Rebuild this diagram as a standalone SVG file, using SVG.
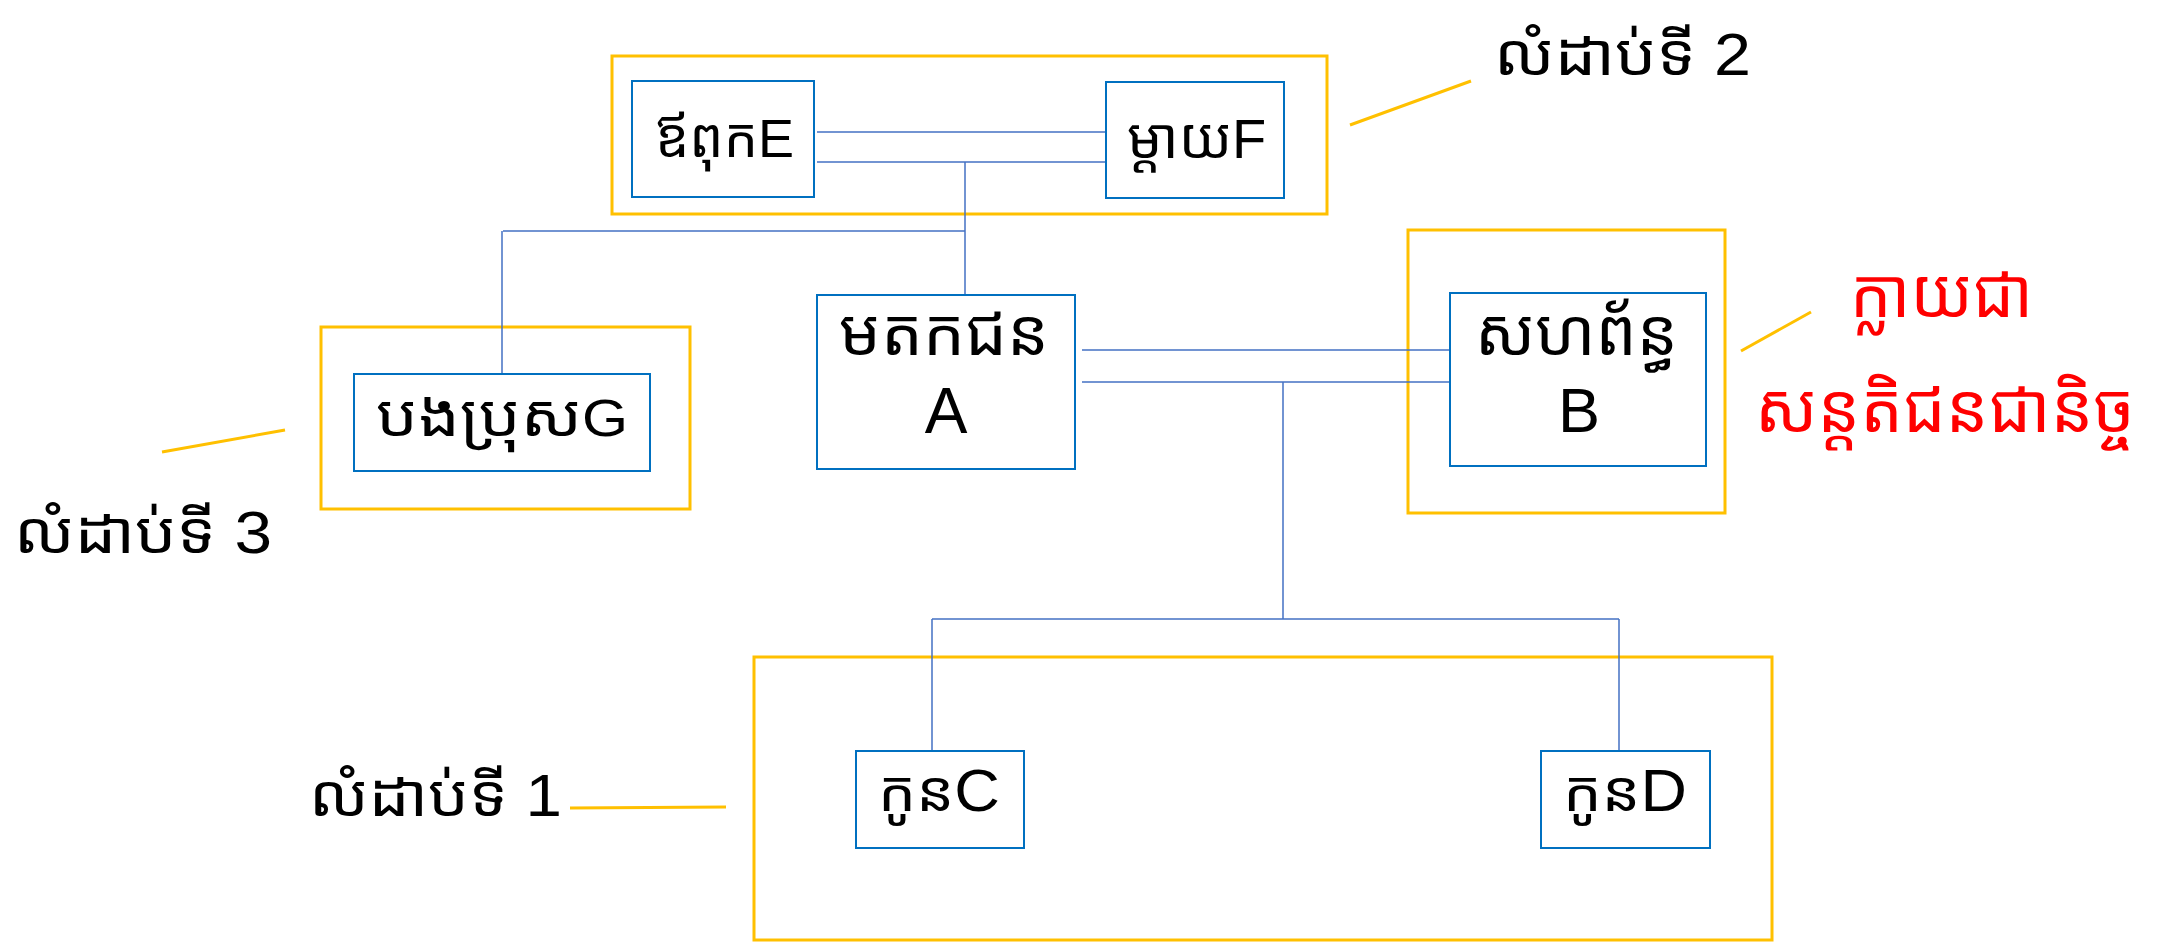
<svg xmlns="http://www.w3.org/2000/svg" width="2161" height="942" viewBox="0 0 2161 942">
<style>
.gold{fill:none;stroke:#FFC000;stroke-width:3}
.node{fill:#fff;stroke:#0070C0;stroke-width:2}
.con{fill:none;stroke:#4472C4;stroke-width:1.5}
.lead{fill:none;stroke:#FFC000;stroke-width:3}
text{font-family:"Liberation Sans","Noto Sans Khmer","Khmer OS","Khmer Sangam MN","Noto Sans",sans-serif;fill:#000}
.red{fill:#FF0000}
</style>
<rect width="2161" height="942" fill="#fff"/>
<g id="groups">
<rect id="gen2" class="gold" x="612" y="56" width="715" height="158"/>
<rect id="gen3" class="gold" x="321" y="327" width="369" height="182"/>
<rect id="heir" class="gold" x="1408" y="230" width="317" height="283"/>
<rect id="gen1" class="gold" x="754" y="657" width="1018" height="283"/>
</g>
<g id="connectors">
<path class="con" d="M817,132H1106M817,162H1106M965,162V295M503,231H965M502,231V374"/>
<path class="con" d="M1082,350H1450M1082,382H1450M1283,382V619M932,619H1619M932,619V751M1619,619V751"/>
</g>
<g id="leaders">
<line class="lead" x1="1350" y1="125" x2="1471" y2="81"/>
<line class="lead" x1="162" y1="452" x2="285" y2="430"/>
<line class="lead" x1="570" y1="808" x2="726" y2="807"/>
<line class="lead" x1="1741" y1="351" x2="1811" y2="312"/>
</g>
<g id="nodeE"><rect class="node" x="632" y="81" width="182" height="116"/><text x="655" y="157" font-size="54">ឪពុកE</text></g>
<g id="nodeF"><rect class="node" x="1106" y="82" width="178" height="116"/><text x="1127" y="158" font-size="56">ម្ដាយF</text></g>
<g id="nodeA"><rect class="node" x="817" y="295" width="258" height="174"/><text x="839" y="355" font-size="65" textLength="210" lengthAdjust="spacingAndGlyphs">មតកជន</text><text x="946" y="433" font-size="64" text-anchor="middle">A</text></g>
<g id="nodeB"><rect class="node" x="1450" y="293" width="256" height="173"/><text x="1475" y="355" font-size="65" textLength="203" lengthAdjust="spacingAndGlyphs">សហព័ន្ធ</text><text x="1579" y="432" font-size="63" text-anchor="middle">B</text></g>
<g id="nodeG"><rect class="node" x="354" y="374" width="296" height="97"/><text x="376" y="436" textLength="252" lengthAdjust="spacingAndGlyphs"><tspan font-size="58">បងប្រុស</tspan><tspan font-size="52">G</tspan></text></g>
<g id="nodeC"><rect class="node" x="856" y="751" width="168" height="97"/><text x="878" y="811" textLength="122" lengthAdjust="spacingAndGlyphs"><tspan font-size="56">កូន</tspan><tspan font-size="59">C</tspan></text></g>
<g id="nodeD"><rect class="node" x="1541" y="751" width="169" height="97"/><text x="1563" y="811" textLength="124" lengthAdjust="spacingAndGlyphs"><tspan font-size="56">កូន</tspan><tspan font-size="59">D</tspan></text></g>
<g id="labels">
<text x="1494" y="75" textLength="257" lengthAdjust="spacingAndGlyphs"><tspan font-size="58">លំដាប់ទី</tspan><tspan font-size="59"> 2</tspan></text>
<text x="14" y="553" textLength="258" lengthAdjust="spacingAndGlyphs"><tspan font-size="58">លំដាប់ទី</tspan><tspan font-size="60"> 3</tspan></text>
<text x="309" y="816" textLength="253" lengthAdjust="spacingAndGlyphs"><tspan font-size="58">លំដាប់ទី</tspan><tspan font-size="59"> 1</tspan></text>
<text class="red" x="1850" y="317" font-size="68" textLength="183" lengthAdjust="spacingAndGlyphs">ក្លាយជា</text>
<text class="red" x="1755" y="432" font-size="68" textLength="380" lengthAdjust="spacingAndGlyphs">សន្តតិជនជានិច្ច</text>
</g>
</svg>
